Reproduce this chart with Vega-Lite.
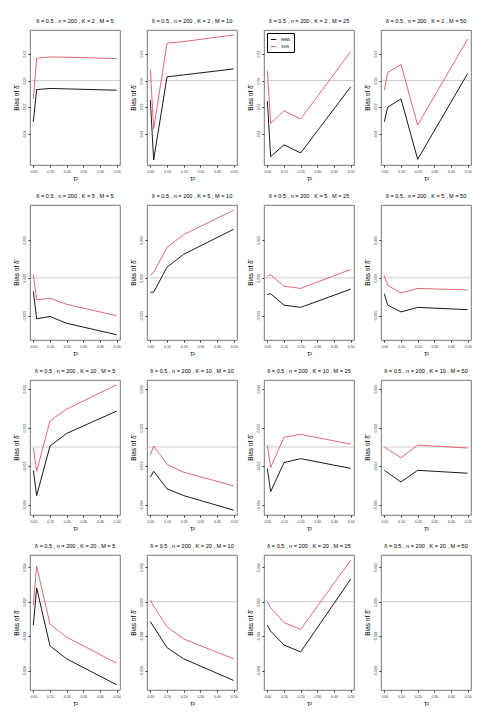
{
  "$schema": "https://vega.github.io/schema/vega-lite/v6.json",
  "background": "white",
  "padding": {"left": 12, "top": 19, "right": 5, "bottom": 5},
  "bounds": "flush",
  "columns": 4,
  "spacing": {"row": 40, "column": 27},
  "resolve": {"scale": {"color": "independent"}},
  "config": {
    "view": {"stroke": "#555555", "strokeWidth": 0.8},
    "axis": {"domain": false, "grid": false, "tickSize": 2, "tickColor": "#333333", "labelFontSize": 3.5, "labelColor": "#333333", "labelFont": "Liberation Sans", "titleFont": "Liberation Sans", "titleFontSize": 6.5, "titleFontWeight": "normal", "titleColor": "#000000", "labelPadding": 2, "titlePadding": 3},
    "axisY": {"labelAngle": -90, "labelAlign": "center", "labelBaseline": "bottom"},
    "title": {"fontSize": 5.6, "fontWeight": "normal", "font": "Liberation Sans", "offset": 5, "color": "#000000"},
    "line": {"strokeWidth": 0.9},
    "legend": {"labelFontSize": 3.5, "labelFont": "Liberation Sans", "symbolType": "stroke", "symbolSize": 30, "symbolStrokeWidth": 1, "strokeColor": "#000000", "padding": 3, "rowPadding": 1, "offset": 3, "fillColor": "white"}
  },
  "data": {"values": [
    {"K":2,"M":5,"method":"REML","tau2":0,"bias":-0.0306},{"K":2,"M":5,"method":"REML","tau2":0.02,"bias":-0.0067},{"K":2,"M":5,"method":"REML","tau2":0.1,"bias":-0.0059},{"K":2,"M":5,"method":"REML","tau2":0.2,"bias":-0.0062},{"K":2,"M":5,"method":"REML","tau2":0.5,"bias":-0.0072},
    {"K":2,"M":5,"method":"SSW","tau2":0,"bias":-0.0136},{"K":2,"M":5,"method":"SSW","tau2":0.02,"bias":0.0165},{"K":2,"M":5,"method":"SSW","tau2":0.1,"bias":0.0175},{"K":2,"M":5,"method":"SSW","tau2":0.2,"bias":0.0173},{"K":2,"M":5,"method":"SSW","tau2":0.5,"bias":0.0163},
    {"K":2,"M":10,"method":"REML","tau2":0,"bias":-0.0146},{"K":2,"M":10,"method":"REML","tau2":0.02,"bias":-0.059},{"K":2,"M":10,"method":"REML","tau2":0.1,"bias":0.0027},{"K":2,"M":10,"method":"REML","tau2":0.2,"bias":0.0042},{"K":2,"M":10,"method":"REML","tau2":0.5,"bias":0.0086},
    {"K":2,"M":10,"method":"SSW","tau2":0,"bias":0.0081},{"K":2,"M":10,"method":"SSW","tau2":0.02,"bias":-0.0358},{"K":2,"M":10,"method":"SSW","tau2":0.1,"bias":0.0277},{"K":2,"M":10,"method":"SSW","tau2":0.2,"bias":0.0289},{"K":2,"M":10,"method":"SSW","tau2":0.5,"bias":0.0338},
    {"K":2,"M":25,"method":"REML","tau2":0,"bias":-0.0153},{"K":2,"M":25,"method":"REML","tau2":0.02,"bias":-0.0565},{"K":2,"M":25,"method":"REML","tau2":0.1,"bias":-0.0477},{"K":2,"M":25,"method":"REML","tau2":0.2,"bias":-0.0538},{"K":2,"M":25,"method":"REML","tau2":0.5,"bias":-0.0047},
    {"K":2,"M":25,"method":"SSW","tau2":0,"bias":0.0074},{"K":2,"M":25,"method":"SSW","tau2":0.02,"bias":-0.0319},{"K":2,"M":25,"method":"SSW","tau2":0.1,"bias":-0.0225},{"K":2,"M":25,"method":"SSW","tau2":0.2,"bias":-0.0286},{"K":2,"M":25,"method":"SSW","tau2":0.5,"bias":0.0215},
    {"K":2,"M":50,"method":"REML","tau2":0,"bias":-0.0306},{"K":2,"M":50,"method":"REML","tau2":0.02,"bias":-0.0198},{"K":2,"M":50,"method":"REML","tau2":0.1,"bias":-0.0136},{"K":2,"M":50,"method":"REML","tau2":0.2,"bias":-0.0585},{"K":2,"M":50,"method":"REML","tau2":0.5,"bias":0.0052},
    {"K":2,"M":50,"method":"SSW","tau2":0,"bias":-0.0072},{"K":2,"M":50,"method":"SSW","tau2":0.02,"bias":0.0059},{"K":2,"M":50,"method":"SSW","tau2":0.1,"bias":0.0119},{"K":2,"M":50,"method":"SSW","tau2":0.2,"bias":-0.0331},{"K":2,"M":50,"method":"SSW","tau2":0.5,"bias":0.0309},
    {"K":5,"M":5,"method":"REML","tau2":0,"bias":-0.0018},{"K":5,"M":5,"method":"REML","tau2":0.02,"bias":-0.0054},{"K":5,"M":5,"method":"REML","tau2":0.1,"bias":-0.0051},{"K":5,"M":5,"method":"REML","tau2":0.2,"bias":-0.006},{"K":5,"M":5,"method":"REML","tau2":0.5,"bias":-0.0075},
    {"K":5,"M":5,"method":"SSW","tau2":0,"bias":0.0004},{"K":5,"M":5,"method":"SSW","tau2":0.02,"bias":-0.0029},{"K":5,"M":5,"method":"SSW","tau2":0.1,"bias":-0.0027},{"K":5,"M":5,"method":"SSW","tau2":0.2,"bias":-0.0035},{"K":5,"M":5,"method":"SSW","tau2":0.5,"bias":-0.005},
    {"K":5,"M":10,"method":"REML","tau2":0,"bias":-0.0019},{"K":5,"M":10,"method":"REML","tau2":0.02,"bias":-0.0019},{"K":5,"M":10,"method":"REML","tau2":0.1,"bias":0.0014},{"K":5,"M":10,"method":"REML","tau2":0.2,"bias":0.0031},{"K":5,"M":10,"method":"REML","tau2":0.5,"bias":0.0064},
    {"K":5,"M":10,"method":"SSW","tau2":0,"bias":0.00035},{"K":5,"M":10,"method":"SSW","tau2":0.02,"bias":0.0007},{"K":5,"M":10,"method":"SSW","tau2":0.1,"bias":0.004},{"K":5,"M":10,"method":"SSW","tau2":0.2,"bias":0.0057},{"K":5,"M":10,"method":"SSW","tau2":0.5,"bias":0.0089},
    {"K":5,"M":25,"method":"REML","tau2":0,"bias":-0.0022},{"K":5,"M":25,"method":"REML","tau2":0.02,"bias":-0.0021},{"K":5,"M":25,"method":"REML","tau2":0.1,"bias":-0.0036},{"K":5,"M":25,"method":"REML","tau2":0.2,"bias":-0.0039},{"K":5,"M":25,"method":"REML","tau2":0.5,"bias":-0.0015},
    {"K":5,"M":25,"method":"SSW","tau2":0,"bias":0.0002},{"K":5,"M":25,"method":"SSW","tau2":0.02,"bias":0.0004},{"K":5,"M":25,"method":"SSW","tau2":0.1,"bias":-0.0011},{"K":5,"M":25,"method":"SSW","tau2":0.2,"bias":-0.0014},{"K":5,"M":25,"method":"SSW","tau2":0.5,"bias":0.0011},
    {"K":5,"M":50,"method":"REML","tau2":0,"bias":-0.0021},{"K":5,"M":50,"method":"REML","tau2":0.02,"bias":-0.0036},{"K":5,"M":50,"method":"REML","tau2":0.1,"bias":-0.0045},{"K":5,"M":50,"method":"REML","tau2":0.2,"bias":-0.0039},{"K":5,"M":50,"method":"REML","tau2":0.5,"bias":-0.0042},
    {"K":5,"M":50,"method":"SSW","tau2":0,"bias":0.0003},{"K":5,"M":50,"method":"SSW","tau2":0.02,"bias":-0.001},{"K":5,"M":50,"method":"SSW","tau2":0.1,"bias":-0.002},{"K":5,"M":50,"method":"SSW","tau2":0.2,"bias":-0.0014},{"K":5,"M":50,"method":"SSW","tau2":0.5,"bias":-0.0016},
    {"K":10,"M":5,"method":"REML","tau2":0,"bias":-0.0024},{"K":10,"M":5,"method":"REML","tau2":0.02,"bias":-0.005},{"K":10,"M":5,"method":"REML","tau2":0.1,"bias":0.0001},{"K":10,"M":5,"method":"REML","tau2":0.2,"bias":0.0014},{"K":10,"M":5,"method":"REML","tau2":0.5,"bias":0.0037},
    {"K":10,"M":5,"method":"SSW","tau2":0,"bias":-0.0001},{"K":10,"M":5,"method":"SSW","tau2":0.02,"bias":-0.0025},{"K":10,"M":5,"method":"SSW","tau2":0.1,"bias":0.0027},{"K":10,"M":5,"method":"SSW","tau2":0.2,"bias":0.0039},{"K":10,"M":5,"method":"SSW","tau2":0.5,"bias":0.0064},
    {"K":10,"M":10,"method":"REML","tau2":0,"bias":-0.0031},{"K":10,"M":10,"method":"REML","tau2":0.02,"bias":-0.0025},{"K":10,"M":10,"method":"REML","tau2":0.1,"bias":-0.0043},{"K":10,"M":10,"method":"REML","tau2":0.2,"bias":-0.005},{"K":10,"M":10,"method":"REML","tau2":0.5,"bias":-0.0065},
    {"K":10,"M":10,"method":"SSW","tau2":0,"bias":-0.0008},{"K":10,"M":10,"method":"SSW","tau2":0.02,"bias":0.0001},{"K":10,"M":10,"method":"SSW","tau2":0.1,"bias":-0.0018},{"K":10,"M":10,"method":"SSW","tau2":0.2,"bias":-0.0026},{"K":10,"M":10,"method":"SSW","tau2":0.5,"bias":-0.004},
    {"K":10,"M":25,"method":"REML","tau2":0,"bias":-0.0022},{"K":10,"M":25,"method":"REML","tau2":0.02,"bias":-0.0046},{"K":10,"M":25,"method":"REML","tau2":0.1,"bias":-0.0016},{"K":10,"M":25,"method":"REML","tau2":0.2,"bias":-0.0012},{"K":10,"M":25,"method":"REML","tau2":0.5,"bias":-0.0022},
    {"K":10,"M":25,"method":"SSW","tau2":0,"bias":0.0002},{"K":10,"M":25,"method":"SSW","tau2":0.02,"bias":-0.0021},{"K":10,"M":25,"method":"SSW","tau2":0.1,"bias":0.001},{"K":10,"M":25,"method":"SSW","tau2":0.2,"bias":0.0013},{"K":10,"M":25,"method":"SSW","tau2":0.5,"bias":0.0003},
    {"K":10,"M":50,"method":"REML","tau2":0,"bias":-0.0024},{"K":10,"M":50,"method":"REML","tau2":0.1,"bias":-0.0036},{"K":10,"M":50,"method":"REML","tau2":0.2,"bias":-0.0024},{"K":10,"M":50,"method":"REML","tau2":0.5,"bias":-0.0027},
    {"K":10,"M":50,"method":"SSW","tau2":0,"bias":0.0},{"K":10,"M":50,"method":"SSW","tau2":0.1,"bias":-0.0011},{"K":10,"M":50,"method":"SSW","tau2":0.2,"bias":0.0002},{"K":10,"M":50,"method":"SSW","tau2":0.5,"bias":-0.0001},
    {"K":20,"M":5,"method":"REML","tau2":0,"bias":-0.0027},{"K":20,"M":5,"method":"REML","tau2":0.02,"bias":0.0016},{"K":20,"M":5,"method":"REML","tau2":0.1,"bias":-0.0051},{"K":20,"M":5,"method":"REML","tau2":0.2,"bias":-0.0066},{"K":20,"M":5,"method":"REML","tau2":0.5,"bias":-0.0096},
    {"K":20,"M":5,"method":"SSW","tau2":0,"bias":-0.0004},{"K":20,"M":5,"method":"SSW","tau2":0.02,"bias":0.0041},{"K":20,"M":5,"method":"SSW","tau2":0.1,"bias":-0.0026},{"K":20,"M":5,"method":"SSW","tau2":0.2,"bias":-0.0041},{"K":20,"M":5,"method":"SSW","tau2":0.5,"bias":-0.0071},
    {"K":20,"M":10,"method":"REML","tau2":0,"bias":-0.0023},{"K":20,"M":10,"method":"REML","tau2":0.02,"bias":-0.0029},{"K":20,"M":10,"method":"REML","tau2":0.1,"bias":-0.0053},{"K":20,"M":10,"method":"REML","tau2":0.2,"bias":-0.0066},{"K":20,"M":10,"method":"REML","tau2":0.5,"bias":-0.0091},
    {"K":20,"M":10,"method":"SSW","tau2":0,"bias":0.0002},{"K":20,"M":10,"method":"SSW","tau2":0.02,"bias":-0.0005},{"K":20,"M":10,"method":"SSW","tau2":0.1,"bias":-0.0029},{"K":20,"M":10,"method":"SSW","tau2":0.2,"bias":-0.0043},{"K":20,"M":10,"method":"SSW","tau2":0.5,"bias":-0.0066},
    {"K":20,"M":25,"method":"REML","tau2":0,"bias":-0.0027},{"K":20,"M":25,"method":"REML","tau2":0.02,"bias":-0.0034},{"K":20,"M":25,"method":"REML","tau2":0.1,"bias":-0.005},{"K":20,"M":25,"method":"REML","tau2":0.2,"bias":-0.0058},{"K":20,"M":25,"method":"REML","tau2":0.5,"bias":0.0026},
    {"K":20,"M":25,"method":"SSW","tau2":0,"bias":0.0},{"K":20,"M":25,"method":"SSW","tau2":0.02,"bias":-0.0007},{"K":20,"M":25,"method":"SSW","tau2":0.1,"bias":-0.0024},{"K":20,"M":25,"method":"SSW","tau2":0.2,"bias":-0.0032},{"K":20,"M":25,"method":"SSW","tau2":0.5,"bias":0.0048}
  ]},
  "concat": [
    {"title": "δ = 0.5 , n = 200 , K = 2 , M = 5", "width": 90, "height": 135, "layer": [
      {"data": {"values": [{"ref": 0}]}, "mark": {"type": "rule", "color": "#BEBEBE", "strokeWidth": 0.8}, "encoding": {"y": {"field": "ref", "type": "quantitative"}}},
      {"transform": [{"filter": "datum.K == 2 && datum.M == 5"}], "mark": "line", "encoding": {
        "x": {"field": "tau2", "type": "quantitative", "scale": {"domain": [-0.02, 0.52], "nice": false, "zero": false}, "axis": {"values": [0, 0.1, 0.2, 0.3, 0.4, 0.5], "format": ".2f", "title": "τ²"}},
        "y": {"field": "bias", "type": "quantitative", "scale": {"domain": [-0.0627, 0.0375], "nice": false, "zero": false}, "axis": {"values": [-0.04, -0.02, 0, 0.02], "format": ".2f", "title": "Bias of δ̂"}},
        "color": {"field": "method", "type": "nominal", "scale": {"domain": ["REML", "SSW"], "range": ["#000000", "#DF536B"]}, "legend": null}}}]},
    {"title": "δ = 0.5 , n = 200 , K = 2 , M = 10", "width": 90, "height": 135, "layer": [
      {"data": {"values": [{"ref": 0}]}, "mark": {"type": "rule", "color": "#BEBEBE", "strokeWidth": 0.8}, "encoding": {"y": {"field": "ref", "type": "quantitative"}}},
      {"transform": [{"filter": "datum.K == 2 && datum.M == 10"}], "mark": "line", "encoding": {
        "x": {"field": "tau2", "type": "quantitative", "scale": {"domain": [-0.02, 0.52], "nice": false, "zero": false}, "axis": {"values": [0, 0.1, 0.2, 0.3, 0.4, 0.5], "format": ".2f", "title": "τ²"}},
        "y": {"field": "bias", "type": "quantitative", "scale": {"domain": [-0.0627, 0.0375], "nice": false, "zero": false}, "axis": {"values": [-0.04, -0.02, 0, 0.02], "format": ".2f", "title": "Bias of δ̂"}},
        "color": {"field": "method", "type": "nominal", "scale": {"domain": ["REML", "SSW"], "range": ["#000000", "#DF536B"]}, "legend": null}}}]},
    {"title": "δ = 0.5 , n = 200 , K = 2 , M = 25", "width": 90, "height": 135, "layer": [
      {"data": {"values": [{"ref": 0}]}, "mark": {"type": "rule", "color": "#BEBEBE", "strokeWidth": 0.8}, "encoding": {"y": {"field": "ref", "type": "quantitative"}}},
      {"transform": [{"filter": "datum.K == 2 && datum.M == 25"}], "mark": "line", "encoding": {
        "x": {"field": "tau2", "type": "quantitative", "scale": {"domain": [-0.02, 0.52], "nice": false, "zero": false}, "axis": {"values": [0, 0.1, 0.2, 0.3, 0.4, 0.5], "format": ".2f", "title": "τ²"}},
        "y": {"field": "bias", "type": "quantitative", "scale": {"domain": [-0.0627, 0.0375], "nice": false, "zero": false}, "axis": {"values": [-0.04, -0.02, 0, 0.02], "format": ".2f", "title": "Bias of δ̂"}},
        "color": {"field": "method", "type": "nominal", "scale": {"domain": ["REML", "SSW"], "range": ["#000000", "#DF536B"]}, "legend": {"orient": "top-left", "title": null}}}}]},
    {"title": "δ = 0.5 , n = 200 , K = 2 , M = 50", "width": 90, "height": 135, "layer": [
      {"data": {"values": [{"ref": 0}]}, "mark": {"type": "rule", "color": "#BEBEBE", "strokeWidth": 0.8}, "encoding": {"y": {"field": "ref", "type": "quantitative"}}},
      {"transform": [{"filter": "datum.K == 2 && datum.M == 50"}], "mark": "line", "encoding": {
        "x": {"field": "tau2", "type": "quantitative", "scale": {"domain": [-0.02, 0.52], "nice": false, "zero": false}, "axis": {"values": [0, 0.1, 0.2, 0.3, 0.4, 0.5], "format": ".2f", "title": "τ²"}},
        "y": {"field": "bias", "type": "quantitative", "scale": {"domain": [-0.0627, 0.0375], "nice": false, "zero": false}, "axis": {"values": [-0.04, -0.02, 0, 0.02], "format": ".2f", "title": "Bias of δ̂"}},
        "color": {"field": "method", "type": "nominal", "scale": {"domain": ["REML", "SSW"], "range": ["#000000", "#DF536B"]}, "legend": null}}}]},
    {"title": "δ = 0.5 , n = 200 , K = 5 , M = 5", "width": 90, "height": 135, "layer": [
      {"data": {"values": [{"ref": 0}]}, "mark": {"type": "rule", "color": "#BEBEBE", "strokeWidth": 0.8}, "encoding": {"y": {"field": "ref", "type": "quantitative"}}},
      {"transform": [{"filter": "datum.K == 5 && datum.M == 5"}], "mark": "line", "encoding": {
        "x": {"field": "tau2", "type": "quantitative", "scale": {"domain": [-0.02, 0.52], "nice": false, "zero": false}, "axis": {"values": [0, 0.1, 0.2, 0.3, 0.4, 0.5], "format": ".2f", "title": "τ²"}},
        "y": {"field": "bias", "type": "quantitative", "scale": {"domain": [-0.0082, 0.0096], "nice": false, "zero": false}, "axis": {"values": [-0.005, 0, 0.005], "format": ".3f", "title": "Bias of δ̂"}},
        "color": {"field": "method", "type": "nominal", "scale": {"domain": ["REML", "SSW"], "range": ["#000000", "#DF536B"]}, "legend": null}}}]},
    {"title": "δ = 0.5 , n = 200 , K = 5 , M = 10", "width": 90, "height": 135, "layer": [
      {"data": {"values": [{"ref": 0}]}, "mark": {"type": "rule", "color": "#BEBEBE", "strokeWidth": 0.8}, "encoding": {"y": {"field": "ref", "type": "quantitative"}}},
      {"transform": [{"filter": "datum.K == 5 && datum.M == 10"}], "mark": "line", "encoding": {
        "x": {"field": "tau2", "type": "quantitative", "scale": {"domain": [-0.02, 0.52], "nice": false, "zero": false}, "axis": {"values": [0, 0.1, 0.2, 0.3, 0.4, 0.5], "format": ".2f", "title": "τ²"}},
        "y": {"field": "bias", "type": "quantitative", "scale": {"domain": [-0.0082, 0.0096], "nice": false, "zero": false}, "axis": {"values": [-0.005, 0, 0.005], "format": ".3f", "title": "Bias of δ̂"}},
        "color": {"field": "method", "type": "nominal", "scale": {"domain": ["REML", "SSW"], "range": ["#000000", "#DF536B"]}, "legend": null}}}]},
    {"title": "δ = 0.5 , n = 200 , K = 5 , M = 25", "width": 90, "height": 135, "layer": [
      {"data": {"values": [{"ref": 0}]}, "mark": {"type": "rule", "color": "#BEBEBE", "strokeWidth": 0.8}, "encoding": {"y": {"field": "ref", "type": "quantitative"}}},
      {"transform": [{"filter": "datum.K == 5 && datum.M == 25"}], "mark": "line", "encoding": {
        "x": {"field": "tau2", "type": "quantitative", "scale": {"domain": [-0.02, 0.52], "nice": false, "zero": false}, "axis": {"values": [0, 0.1, 0.2, 0.3, 0.4, 0.5], "format": ".2f", "title": "τ²"}},
        "y": {"field": "bias", "type": "quantitative", "scale": {"domain": [-0.0082, 0.0096], "nice": false, "zero": false}, "axis": {"values": [-0.005, 0, 0.005], "format": ".3f", "title": "Bias of δ̂"}},
        "color": {"field": "method", "type": "nominal", "scale": {"domain": ["REML", "SSW"], "range": ["#000000", "#DF536B"]}, "legend": null}}}]},
    {"title": "δ = 0.5 , n = 200 , K = 5 , M = 50", "width": 90, "height": 135, "layer": [
      {"data": {"values": [{"ref": 0}]}, "mark": {"type": "rule", "color": "#BEBEBE", "strokeWidth": 0.8}, "encoding": {"y": {"field": "ref", "type": "quantitative"}}},
      {"transform": [{"filter": "datum.K == 5 && datum.M == 50"}], "mark": "line", "encoding": {
        "x": {"field": "tau2", "type": "quantitative", "scale": {"domain": [-0.02, 0.52], "nice": false, "zero": false}, "axis": {"values": [0, 0.1, 0.2, 0.3, 0.4, 0.5], "format": ".2f", "title": "τ²"}},
        "y": {"field": "bias", "type": "quantitative", "scale": {"domain": [-0.0082, 0.0096], "nice": false, "zero": false}, "axis": {"values": [-0.005, 0, 0.005], "format": ".3f", "title": "Bias of δ̂"}},
        "color": {"field": "method", "type": "nominal", "scale": {"domain": ["REML", "SSW"], "range": ["#000000", "#DF536B"]}, "legend": null}}}]},
    {"title": "δ = 0.5 , n = 200 , K = 10 , M = 5", "width": 90, "height": 135, "layer": [
      {"data": {"values": [{"ref": 0}]}, "mark": {"type": "rule", "color": "#BEBEBE", "strokeWidth": 0.8}, "encoding": {"y": {"field": "ref", "type": "quantitative"}}},
      {"transform": [{"filter": "datum.K == 10 && datum.M == 5"}], "mark": "line", "encoding": {
        "x": {"field": "tau2", "type": "quantitative", "scale": {"domain": [-0.02, 0.52], "nice": false, "zero": false}, "axis": {"values": [0, 0.1, 0.2, 0.3, 0.4, 0.5], "format": ".2f", "title": "τ²"}},
        "y": {"field": "bias", "type": "quantitative", "scale": {"domain": [-0.0070, 0.0069], "nice": false, "zero": false}, "axis": {"values": [-0.006, -0.004, -0.002, 0, 0.002, 0.004, 0.006], "format": ".3f", "title": "Bias of δ̂"}},
        "color": {"field": "method", "type": "nominal", "scale": {"domain": ["REML", "SSW"], "range": ["#000000", "#DF536B"]}, "legend": null}}}]},
    {"title": "δ = 0.5 , n = 200 , K = 10 , M = 10", "width": 90, "height": 135, "layer": [
      {"data": {"values": [{"ref": 0}]}, "mark": {"type": "rule", "color": "#BEBEBE", "strokeWidth": 0.8}, "encoding": {"y": {"field": "ref", "type": "quantitative"}}},
      {"transform": [{"filter": "datum.K == 10 && datum.M == 10"}], "mark": "line", "encoding": {
        "x": {"field": "tau2", "type": "quantitative", "scale": {"domain": [-0.02, 0.52], "nice": false, "zero": false}, "axis": {"values": [0, 0.1, 0.2, 0.3, 0.4, 0.5], "format": ".2f", "title": "τ²"}},
        "y": {"field": "bias", "type": "quantitative", "scale": {"domain": [-0.0070, 0.0069], "nice": false, "zero": false}, "axis": {"values": [-0.006, -0.004, -0.002, 0, 0.002, 0.004, 0.006], "format": ".3f", "title": "Bias of δ̂"}},
        "color": {"field": "method", "type": "nominal", "scale": {"domain": ["REML", "SSW"], "range": ["#000000", "#DF536B"]}, "legend": null}}}]},
    {"title": "δ = 0.5 , n = 200 , K = 10 , M = 25", "width": 90, "height": 135, "layer": [
      {"data": {"values": [{"ref": 0}]}, "mark": {"type": "rule", "color": "#BEBEBE", "strokeWidth": 0.8}, "encoding": {"y": {"field": "ref", "type": "quantitative"}}},
      {"transform": [{"filter": "datum.K == 10 && datum.M == 25"}], "mark": "line", "encoding": {
        "x": {"field": "tau2", "type": "quantitative", "scale": {"domain": [-0.02, 0.52], "nice": false, "zero": false}, "axis": {"values": [0, 0.1, 0.2, 0.3, 0.4, 0.5], "format": ".2f", "title": "τ²"}},
        "y": {"field": "bias", "type": "quantitative", "scale": {"domain": [-0.0070, 0.0069], "nice": false, "zero": false}, "axis": {"values": [-0.006, -0.004, -0.002, 0, 0.002, 0.004, 0.006], "format": ".3f", "title": "Bias of δ̂"}},
        "color": {"field": "method", "type": "nominal", "scale": {"domain": ["REML", "SSW"], "range": ["#000000", "#DF536B"]}, "legend": null}}}]},
    {"title": "δ = 0.5 , n = 200 , K = 10 , M = 50", "width": 90, "height": 135, "layer": [
      {"data": {"values": [{"ref": 0}]}, "mark": {"type": "rule", "color": "#BEBEBE", "strokeWidth": 0.8}, "encoding": {"y": {"field": "ref", "type": "quantitative"}}},
      {"transform": [{"filter": "datum.K == 10 && datum.M == 50"}], "mark": "line", "encoding": {
        "x": {"field": "tau2", "type": "quantitative", "scale": {"domain": [-0.02, 0.52], "nice": false, "zero": false}, "axis": {"values": [0, 0.1, 0.2, 0.3, 0.4, 0.5], "format": ".2f", "title": "τ²"}},
        "y": {"field": "bias", "type": "quantitative", "scale": {"domain": [-0.0070, 0.0069], "nice": false, "zero": false}, "axis": {"values": [-0.006, -0.004, -0.002, 0, 0.002, 0.004, 0.006], "format": ".3f", "title": "Bias of δ̂"}},
        "color": {"field": "method", "type": "nominal", "scale": {"domain": ["REML", "SSW"], "range": ["#000000", "#DF536B"]}, "legend": null}}}]},
    {"title": "δ = 0.5 , n = 200 , K = 20 , M = 5", "width": 90, "height": 135, "layer": [
      {"data": {"values": [{"ref": 0}]}, "mark": {"type": "rule", "color": "#BEBEBE", "strokeWidth": 0.8}, "encoding": {"y": {"field": "ref", "type": "quantitative"}}},
      {"transform": [{"filter": "datum.K == 20 && datum.M == 5"}], "mark": "line", "encoding": {
        "x": {"field": "tau2", "type": "quantitative", "scale": {"domain": [-0.02, 0.52], "nice": false, "zero": false}, "axis": {"values": [0, 0.1, 0.2, 0.3, 0.4, 0.5], "format": ".2f", "title": "τ²"}},
        "y": {"field": "bias", "type": "quantitative", "scale": {"domain": [-0.0102, 0.0054], "nice": false, "zero": false}, "axis": {"values": [-0.008, -0.006, -0.004, -0.002, 0, 0.002, 0.004], "format": ".3f", "title": "Bias of δ̂"}},
        "color": {"field": "method", "type": "nominal", "scale": {"domain": ["REML", "SSW"], "range": ["#000000", "#DF536B"]}, "legend": null}}}]},
    {"title": "δ = 0.5 , n = 200 , K = 20 , M = 10", "width": 90, "height": 135, "layer": [
      {"data": {"values": [{"ref": 0}]}, "mark": {"type": "rule", "color": "#BEBEBE", "strokeWidth": 0.8}, "encoding": {"y": {"field": "ref", "type": "quantitative"}}},
      {"transform": [{"filter": "datum.K == 20 && datum.M == 10"}], "mark": "line", "encoding": {
        "x": {"field": "tau2", "type": "quantitative", "scale": {"domain": [-0.02, 0.52], "nice": false, "zero": false}, "axis": {"values": [0, 0.1, 0.2, 0.3, 0.4, 0.5], "format": ".2f", "title": "τ²"}},
        "y": {"field": "bias", "type": "quantitative", "scale": {"domain": [-0.0102, 0.0054], "nice": false, "zero": false}, "axis": {"values": [-0.008, -0.006, -0.004, -0.002, 0, 0.002, 0.004], "format": ".3f", "title": "Bias of δ̂"}},
        "color": {"field": "method", "type": "nominal", "scale": {"domain": ["REML", "SSW"], "range": ["#000000", "#DF536B"]}, "legend": null}}}]},
    {"title": "δ = 0.5 , n = 200 , K = 20 , M = 25", "width": 90, "height": 135, "layer": [
      {"data": {"values": [{"ref": 0}]}, "mark": {"type": "rule", "color": "#BEBEBE", "strokeWidth": 0.8}, "encoding": {"y": {"field": "ref", "type": "quantitative"}}},
      {"transform": [{"filter": "datum.K == 20 && datum.M == 25"}], "mark": "line", "encoding": {
        "x": {"field": "tau2", "type": "quantitative", "scale": {"domain": [-0.02, 0.52], "nice": false, "zero": false}, "axis": {"values": [0, 0.1, 0.2, 0.3, 0.4, 0.5], "format": ".2f", "title": "τ²"}},
        "y": {"field": "bias", "type": "quantitative", "scale": {"domain": [-0.0102, 0.0054], "nice": false, "zero": false}, "axis": {"values": [-0.008, -0.006, -0.004, -0.002, 0, 0.002, 0.004], "format": ".3f", "title": "Bias of δ̂"}},
        "color": {"field": "method", "type": "nominal", "scale": {"domain": ["REML", "SSW"], "range": ["#000000", "#DF536B"]}, "legend": null}}}]},
    {"title": "δ = 0.5 , n = 200 , K = 20 , M = 50", "width": 90, "height": 135, "layer": [
      {"data": {"values": [{"ref": 0}]}, "mark": {"type": "rule", "color": "#BEBEBE", "strokeWidth": 0.8}, "encoding": {"y": {"field": "ref", "type": "quantitative"}}},
      {"transform": [{"filter": "datum.K == 20 && datum.M == 50"}], "mark": "line", "encoding": {
        "x": {"field": "tau2", "type": "quantitative", "scale": {"domain": [-0.02, 0.52], "nice": false, "zero": false}, "axis": {"values": [0, 0.1, 0.2, 0.3, 0.4, 0.5], "format": ".2f", "title": "τ²"}},
        "y": {"field": "bias", "type": "quantitative", "scale": {"domain": [-0.0102, 0.0054], "nice": false, "zero": false}, "axis": {"values": [-0.008, -0.006, -0.004, -0.002, 0, 0.002, 0.004], "format": ".3f", "title": "Bias of δ̂"}},
        "color": {"field": "method", "type": "nominal", "scale": {"domain": ["REML", "SSW"], "range": ["#000000", "#DF536B"]}, "legend": null}}}]}
  ]
}
